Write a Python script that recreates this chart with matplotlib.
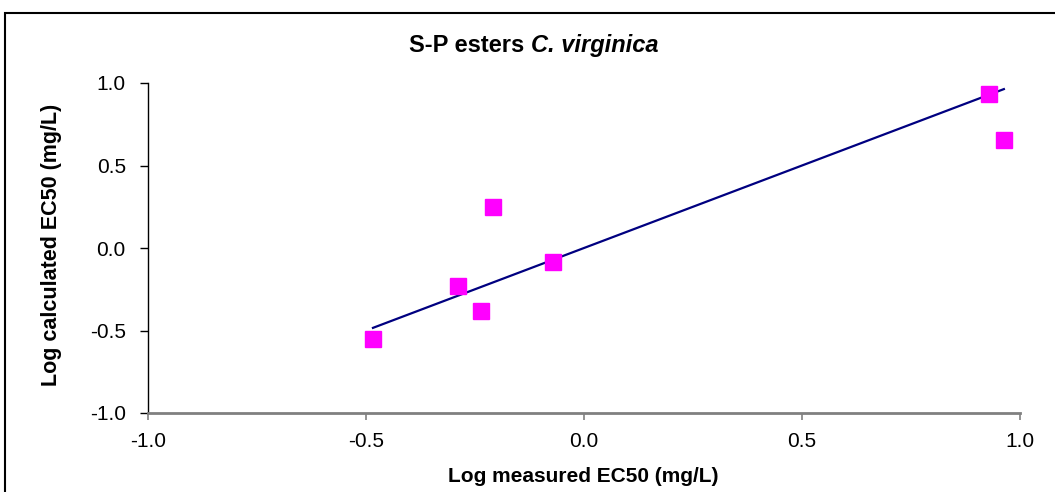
import numpy as np
import matplotlib.pyplot as plt
from matplotlib.patches import Rectangle

# values
measured = [-0.484, -0.289, -0.236, -0.209, -0.071, 0.929, 0.963]
calculated = [-0.552, -0.230, -0.382, 0.248, -0.085, 0.933, 0.655]
ticks = [-1.0, -0.5, 0.0, 0.5, 1.0]
tick_labels = ['-1.0', '-0.5', '0.0', '0.5', '1.0']

plt.rcParams['font.family'] = ['Liberation Sans', 'DejaVu Sans']

W, H = 1055, 492
fig = plt.figure(figsize=(W / 100, H / 100), dpi=100)
ax = fig.add_axes([148 / W, 1 - 413 / H, 872 / W, 330 / H])

# 1:1 line over the range of the measured values
xline = np.array([min(measured), max(measured)])
ax.plot(xline, xline, color='#000080', lw=1.6, zorder=2)
ax.plot(measured, calculated, 's', color='#ff00ff', mec='#ff00ff',
        ms=11, zorder=3, clip_on=False)

ax.set_xlim(-1, 1)
ax.set_ylim(-1, 1)
ax.set_xticks(ticks)
ax.set_xticklabels(tick_labels)
ax.set_yticks(ticks)
ax.set_yticklabels(tick_labels)

ax.spines['top'].set_visible(False)
ax.spines['right'].set_visible(False)
ax.spines['left'].set_color('black')
ax.spines['left'].set_linewidth(1)
ax.spines['bottom'].set_color('#808080')
ax.spines['bottom'].set_linewidth(2)
ax.tick_params(axis='y', direction='out', length=6, width=1, color='black',
               labelsize=15, pad=10)
ax.tick_params(axis='x', direction='out', length=5, width=1.2, color='#808080',
               labelsize=15, pad=9, labelcolor='black')

# axis titles
fig.text(583 / W, 1 - 482 / H, 'Log measured EC50 (mg/L)', ha='center',
         va='baseline', fontsize=15, fontweight='bold')
fig.text(52 / W, 1 - 245 / H, 'Log calculated EC50 (mg/L)', ha='center',
         va='center', rotation=90, fontsize=15.5, fontweight='bold')

# chart title, normal bold part then the species in italics
t1 = fig.text(0, 1 - 52 / H, 'S-P esters ', ha='left', va='baseline',
              fontsize=17, fontweight='bold')
t2 = fig.text(0, 1 - 52 / H, 'C. virginica', ha='left', va='baseline',
              fontsize=17, fontweight='bold', fontstyle='italic')
fig.canvas.draw()
r = fig.canvas.get_renderer()
w1 = t1.get_window_extent(r).width
w2 = t2.get_window_extent(r).width
x0 = 534 - (w1 + w2) / 2
t1.set_x(x0 / W)
t2.set_x((x0 + w1) / W)

# chart area border (right and bottom edges fall outside the picture)
fig.patches.append(Rectangle((5 / W, -0.1), 1.2, 1 - 13 / H + 0.1,
                             transform=fig.transFigure, fill=False,
                             ec='black', lw=1.5))

fig.savefig('out.png', dpi=100)
